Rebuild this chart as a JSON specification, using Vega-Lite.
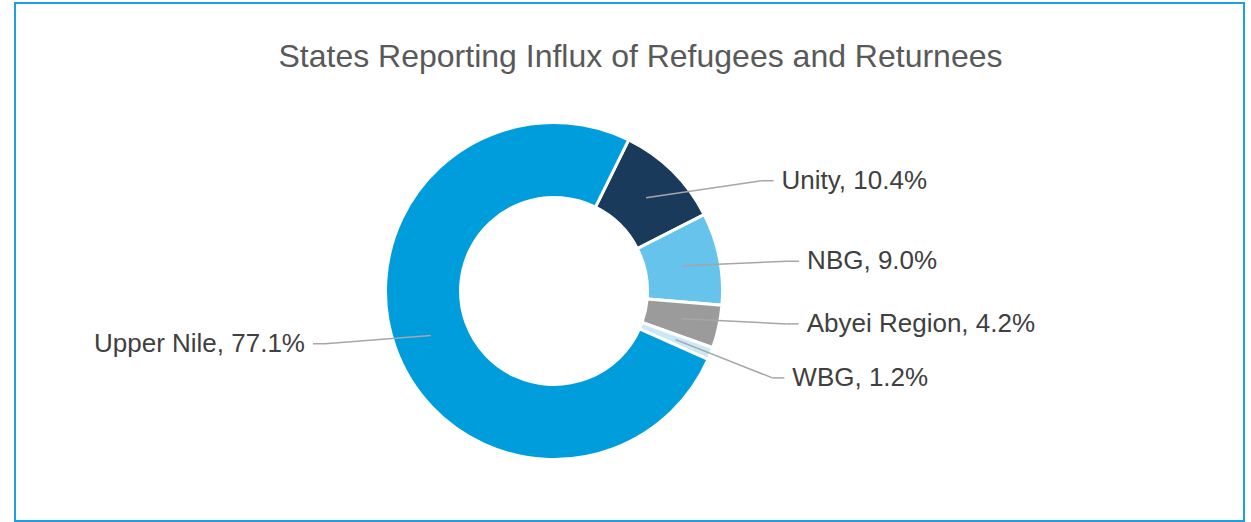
{
  "$schema": "https://vega.github.io/schema/vega-lite/v6.json",
  "width": 1229,
  "height": 518,
  "autosize": {"type": "none"},
  "padding": {"left": 15, "top": 3, "right": 7, "bottom": 1},
  "background": "white",
  "title": {
    "text": "States Reporting Influx of Refugees and Returnees",
    "fontSize": 32,
    "font": "Liberation Sans",
    "fontWeight": "normal",
    "color": "#595959",
    "anchor": "middle",
    "offset": -71,
    "dx": 11
  },
  "data": {
    "values": [
      {"name": "Unity", "v": 10.4, "order": 1},
      {"name": "NBG", "v": 9.0, "order": 2},
      {"name": "Abyei Region", "v": 4.2, "order": 3},
      {"name": "WBG", "v": 1.2, "order": 4},
      {"name": "Upper Nile", "v": 77.1, "order": 5}
    ]
  },
  "transform": [
    {"joinaggregate": [{"op": "sum", "field": "v", "as": "total"}]},
    {"window": [{"op": "sum", "field": "v", "as": "cum"}], "sort": [{"field": "order"}], "frame": [null, 0]},
    {"calculate": "0.459 + 2*PI*(datum.cum - datum.v)/datum.total", "as": "t0"},
    {"calculate": "0.459 + 2*PI*datum.cum/datum.total", "as": "t1"},
    {"calculate": "(datum.t0 + datum.t1)/2", "as": "mid"},
    {"calculate": "sin(datum.mid) >= 0 ? 1 : -1", "as": "side"},
    {"calculate": "131*sin(datum.mid)", "as": "sx"},
    {"calculate": "-131*cos(datum.mid)", "as": "sy"},
    {"calculate": "-155*cos(datum.mid)", "as": "ey0"},
    {"window": [{"op": "lag", "field": "ey0", "as": "prevY"}], "groupby": ["side"], "sort": [{"field": "ey0"}]},
    {"calculate": "isValid(datum.prevY) ? max(datum.ey0, datum.prevY + 54) : datum.ey0", "as": "ey"},
    {"calculate": "datum.side*sqrt(235*235 - datum.ey*datum.ey)", "as": "ex"},
    {"calculate": "datum.ex + datum.side*12", "as": "tx"},
    {"calculate": "datum.tx + datum.side*8", "as": "lx"},
    {"calculate": "datum.name + ', ' + format(datum.v, '.1f') + '%'", "as": "label"}
  ],
  "layer": [
    {
      "mark": {"type": "arc", "innerRadius": 93.5, "outerRadius": 168.5, "stroke": "white", "strokeWidth": 3},
      "encoding": {
        "theta": {"field": "t0", "type": "quantitative", "scale": null},
        "theta2": {"field": "t1"},
        "x": {"datum": 0, "type": "quantitative", "scale": {"domain": [-539, 690], "nice": false, "zero": false}, "axis": null},
        "y": {"datum": 0, "type": "quantitative", "scale": {"domain": [-288, 230], "reverse": true, "nice": false, "zero": false}, "axis": null},
        "color": {
          "field": "name",
          "type": "nominal",
          "scale": {
            "domain": ["Unity", "NBG", "Abyei Region", "WBG", "Upper Nile"],
            "range": ["#193a5b", "#66c3eb", "#9b9b9b", "#cbe8f7", "#009ddc"]
          },
          "legend": null
        }
      }
    },
    {
      "mark": {"type": "rule", "color": "#a6a6a6", "strokeWidth": 1.5},
      "encoding": {
        "x": {"field": "sx", "type": "quantitative", "scale": {"domain": [-539, 690], "nice": false, "zero": false}, "axis": null},
        "y": {"field": "sy", "type": "quantitative", "scale": {"domain": [-288, 230], "reverse": true, "nice": false, "zero": false}, "axis": null},
        "x2": {"field": "ex"},
        "y2": {"field": "ey"}
      }
    },
    {
      "mark": {"type": "rule", "color": "#a6a6a6", "strokeWidth": 1.5},
      "encoding": {
        "x": {"field": "ex", "type": "quantitative", "scale": {"domain": [-539, 690], "nice": false, "zero": false}, "axis": null},
        "y": {"field": "ey", "type": "quantitative", "scale": {"domain": [-288, 230], "reverse": true, "nice": false, "zero": false}, "axis": null},
        "x2": {"field": "tx"},
        "y2": {"field": "ey"}
      }
    },
    {
      "transform": [{"filter": "datum.side > 0"}],
      "mark": {"type": "text", "align": "left", "baseline": "middle", "font": "Liberation Sans", "fontSize": 26, "color": "#404040"},
      "encoding": {
        "x": {"field": "lx", "type": "quantitative", "scale": {"domain": [-539, 690], "nice": false, "zero": false}, "axis": null},
        "y": {"field": "ey", "type": "quantitative", "scale": {"domain": [-288, 230], "reverse": true, "nice": false, "zero": false}, "axis": null},
        "text": {"field": "label"}
      }
    },
    {
      "transform": [{"filter": "datum.side < 0"}],
      "mark": {"type": "text", "align": "right", "baseline": "middle", "font": "Liberation Sans", "fontSize": 26, "color": "#404040"},
      "encoding": {
        "x": {"field": "lx", "type": "quantitative", "scale": {"domain": [-539, 690], "nice": false, "zero": false}, "axis": null},
        "y": {"field": "ey", "type": "quantitative", "scale": {"domain": [-288, 230], "reverse": true, "nice": false, "zero": false}, "axis": null},
        "text": {"field": "label"}
      }
    }
  ],
  "config": {
    "font": "Liberation Sans",
    "view": {"stroke": "#1ea0dc", "strokeWidth": 2}
  }
}
